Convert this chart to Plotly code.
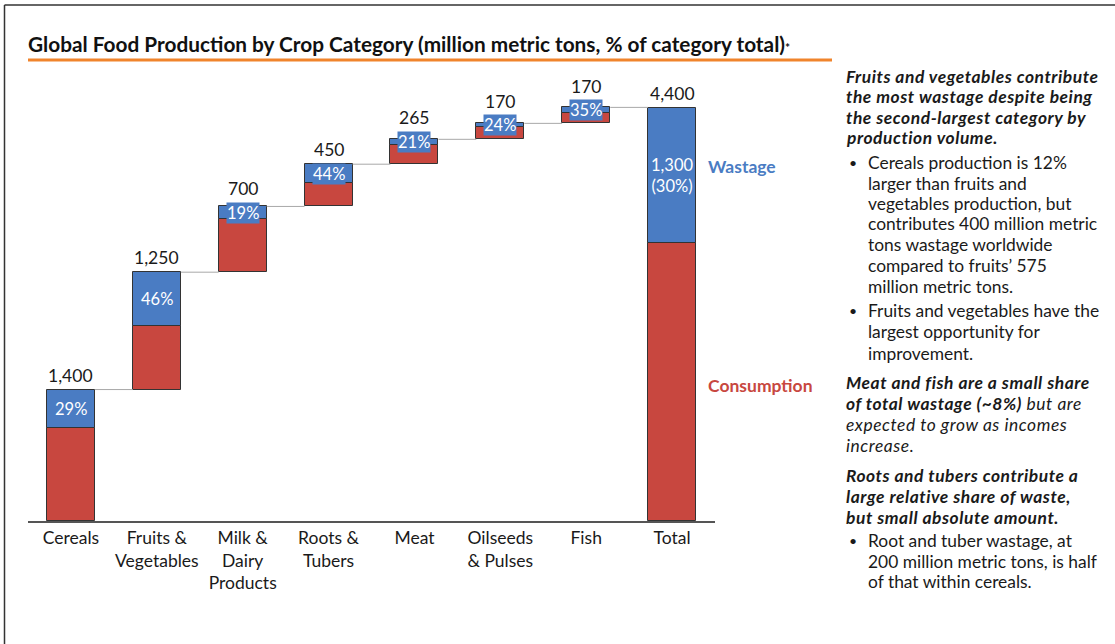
import plotly.graph_objects as go

# ---------------- data ----------------
categories = ["Cereals", "Fruits &<br>Vegetables", "Milk &<br>Dairy<br>Products", "Roots &<br>Tubers",
              "Meat", "Oilseeds<br>& Pulses", "Fish", "Total"]
production = [1400, 1250, 700, 450, 265, 170, 170, 4400]
wastage = [410, 570, 135, 200, 56, 41, 60, 1440]
value_labels = ["1,400", "1,250", "700", "450", "265", "170", "170", "4,400"]
pct_labels = ["29%", "46%", "19%", "44%", "21%", "24%", "35%", "1,300<br>(30%)"]

RED = "#C8473F"
BLUE = "#4A7CC3"
FONT = "Lato"

# waterfall bases: running total, last bar ("Total") starts at zero
bases = []
run = 0
for i, p in enumerate(production):
    if i == len(production) - 1:
        bases.append(0)
    else:
        bases.append(run)
        run += p
consumption = [p - w for p, w in zip(production, wastage)]
tops = [b + p for b, p in zip(bases, production)]
xs = list(range(len(categories)))
BW = 0.56

L, R, T, B = 28, 715, 75, 521
YMAX = 4750
SCALE = (B - T) / YMAX  # px per unit

fig = go.Figure()
fig.add_trace(go.Bar(x=xs, y=consumption, base=bases, width=BW,
                     marker=dict(color=RED, line=dict(color="#333333", width=1)),
                     hoverinfo="skip", showlegend=False))
fig.add_trace(go.Bar(x=xs, y=wastage, base=[b + c for b, c in zip(bases, consumption)], width=BW,
                     marker=dict(color=BLUE, line=dict(color="#333333", width=1)),
                     hoverinfo="skip", showlegend=False))

# connectors
cx, cy = [], []
for i in range(len(xs) - 1):
    cx += [xs[i] + BW / 2, xs[i + 1] - BW / 2, None]
    cy += [tops[i], tops[i], None]
fig.add_trace(go.Scatter(x=cx, y=cy, mode="lines", line=dict(color="#A8A8A8", width=1),
                         hoverinfo="skip", showlegend=False))

annotations = []
for i in xs:
    seg_px = wastage[i] * SCALE
    lift = max(0.0, 9.5 - seg_px / 2)
    # value label above bar (and above the % box when the segment is thin)
    annotations.append(dict(x=xs[i], y=tops[i], xref="x", yref="y", text=value_labels[i],
                            showarrow=False, yanchor="bottom", yshift=2 + lift,
                            font=dict(family=FONT, size=17.5, color="#1a1a1a")))
    # percentage label in the wastage segment
    annotations.append(dict(x=xs[i], y=bases[i] + consumption[i] + wastage[i] / 2, xref="x", yref="y",
                            text=pct_labels[i], showarrow=False, bgcolor=BLUE, borderpad=0,
                            font=dict(family=FONT, size=16.5, color="white")))


def px(x, y):
    return (x - L) / (R - L), (B - y) / (B - T)


def text_at(x, y, s, size=17.5, color="#1a1a1a", anchor="left"):
    xx, yy = px(x, y)
    annotations.append(dict(x=xx, y=yy, xref="paper", yref="paper", text=s, showarrow=False,
                            xanchor=anchor, yanchor="middle",
                            font=dict(family=FONT, size=size, color=color)))


text_at(26, 44, "<b>Global Food Production by Crop Category (million metric tons, % of category total)</b>"
        "<span style='font-size:12px'><b>*</b></span>", size=20.8, color="#111111")

text_at(706, 166, "<b>Wastage</b>", size=17.5, color=BLUE)
text_at(706, 385, "<b>Consumption</b>", size=17.5, color=RED)

HX, BX, TX = 844, 847, 866
HS, BS = 17.4, 17.4
SP = "<span style='letter-spacing:0.55px'>"
lines = [
    (HX, 76, SP + "<b><i>Fruits and vegetables contribute</i></b></span>", HS),
    (HX, 96.5, SP + "<b><i>the most wastage despite being</i></b></span>", HS),
    (HX, 117, SP + "<b><i>the second-largest category by</i></b></span>", HS),
    (HX, 137.5, SP + "<b><i>production volume.</i></b></span>", HS),
    (TX, 162, "Cereals production is 12%", BS),
    (TX, 183, "larger than fruits and", BS),
    (TX, 203.5, "vegetables production, but", BS),
    (TX, 224, "contributes 400 million metric", BS),
    (TX, 244.5, "tons wastage worldwide", BS),
    (TX, 265, "compared to fruits\u2019 575", BS),
    (TX, 286, "million metric tons.", BS),
    (TX, 310, "Fruits and vegetables have the", BS),
    (TX, 331.5, "largest opportunity for", BS),
    (TX, 353, "improvement.", BS),
    (HX, 382.5, SP + "<b><i>Meat and fish are a small share</i></b></span>", HS),
    (HX, 403.5, SP + "<b><i>of total wastage (~8%)</i></b><i> but are</i></span>", HS),
    (HX, 424, SP + "<i>expected to grow as incomes</i></span>", HS),
    (HX, 445, SP + "<i>increase.</i></span>", HS),
    (HX, 475.5, SP + "<b><i>Roots and tubers contribute a</i></b></span>", HS),
    (HX, 496, SP + "<b><i>large relative share of waste,</i></b></span>", HS),
    (HX, 517, SP + "<b><i>but small absolute amount.</i></b></span>", HS),
    (TX, 540, "Root and tuber wastage, at", BS),
    (TX, 561, "200 million metric tons, is half", BS),
    (TX, 581.5, "of that within cereals.", BS),
]
for x, y, s, sz in lines:
    text_at(x, y, s, size=sz)
for y in [162, 310, 540]:
    text_at(BX, y, "\u2022", size=14)

shapes = []
ox0, oy = px(28, 60)
ox1, _ = px(832, 60)
shapes.append(dict(type="line", xref="paper", yref="paper", x0=ox0, x1=ox1, y0=oy, y1=oy,
                   line=dict(color="#F0842C", width=3)))
bx0, by0 = px(4.5, 5)
bx1, by1 = px(1120, 650)
shapes.append(dict(type="line", xref="paper", yref="paper", x0=bx0, x1=bx0, y0=by0, y1=by1,
                   line=dict(color="#333333", width=1.5)))
shapes.append(dict(type="line", xref="paper", yref="paper", x0=bx0, x1=bx1, y0=by0, y1=by0,
                   line=dict(color="#333333", width=1.5)))

fig.update_layout(
    width=1115, height=644,
    margin=dict(l=L, r=1115 - R, t=T, b=644 - B, pad=0),
    paper_bgcolor="white", plot_bgcolor="white",
    barmode="overlay", bargap=0,
    xaxis=dict(range=[-0.5, 7.5], tickvals=xs, ticktext=categories, showgrid=False, zeroline=False,
               showline=True, linecolor="#555555", linewidth=1.5, ticks="",
               tickfont=dict(family=FONT, size=17.5, color="#1a1a1a"), fixedrange=True),
    yaxis=dict(range=[0, YMAX], visible=False, fixedrange=True),
    annotations=annotations, shapes=shapes,
    font=dict(family=FONT),
)

fig.write_html("out.html", config={"displayModeBar": False},
               post_script="document.body.style.margin='0';document.body.style.padding='0';")
